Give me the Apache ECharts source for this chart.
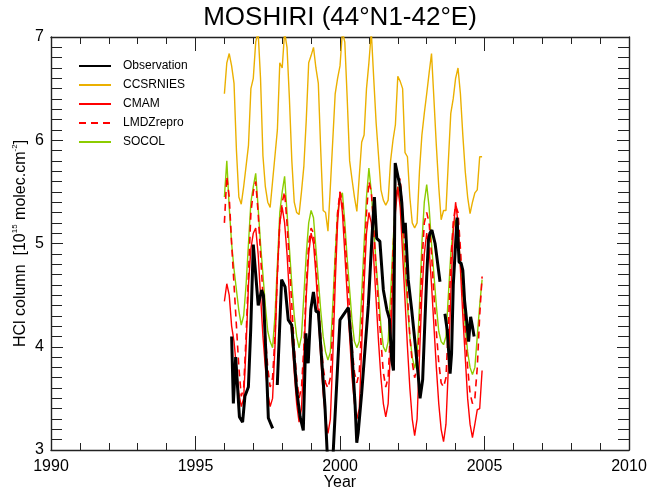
<!DOCTYPE html>
<html>
<head>
<meta charset="utf-8">
<script src="https://cdn.jsdelivr.net/npm/echarts@6/dist/echarts.min.js"></script>
<style>
html, body { margin: 0; padding: 0; background: #fff; }
#chart { width: 648px; height: 491px; }
</style>
</head>
<body>
<div id="chart"></div>
<script>
// monthly model series, first value = Jan 1996
const startYear = 1996;
const ccsrnies = [
	6.45, 6.75, 6.84, 6.72, 6.55, 5.9, 5.45, 5.38, 5.55, 5.75, 5.95, 6.5,
	6.6, 6.95, 7.05, 6.6, 5.85, 5.55, 5.4, 5.35, 5.6, 5.85, 6.1, 6.75,
	6.7, 7.05, 6.9, 6.4, 5.8, 5.4, 5.3, 5.28, 5.5, 5.75, 6.2, 6.75,
	6.82, 6.9, 6.7, 6.55, 5.9, 5.32, 5.3, 5.12, 5.55, 6.0, 6.45, 6.6,
	6.72, 7.05, 6.95, 6.4, 5.8, 5.62, 5.45, 5.31, 5.65, 5.98, 6.05, 6.5,
	6.75, 7.05, 6.6, 6.17, 5.85, 5.52, 5.42, 5.37, 5.42, 5.8, 6.0, 6.15,
	6.62, 6.57, 6.5, 5.88, 5.84, 5.45, 5.2, 5.15, 5.2, 5.7, 6.05, 6.26,
	6.45, 6.65, 6.84, 6.4, 5.95, 5.55, 5.23, 5.32, 5.32, 5.8, 6.26, 6.4,
	6.6, 6.7, 6.45, 6.05, 5.7, 5.45, 5.29, 5.4, 5.49, 5.52, 5.84, 5.84
];
const cmam = [
	4.44, 4.61, 4.5, 4.2, 4.05, 3.8, 3.55, 3.42, 3.5, 4.0, 4.6, 4.95,
	5.1, 5.15, 4.9, 4.5, 4.1, 3.8, 3.55, 3.42, 3.5, 4.0, 4.7, 5.2,
	5.35, 5.2, 4.9, 4.5, 4.1, 3.75, 3.45, 3.27, 3.4, 3.9, 4.5, 4.9,
	5.1, 5.0, 4.7, 4.3, 3.9, 3.55, 3.3, 3.16, 3.3, 3.9, 4.6, 5.2,
	5.5, 5.3, 4.9, 4.5, 4.1, 3.7, 3.45, 3.3, 3.4, 4.0, 4.6, 5.1,
	5.3, 5.2, 4.85, 4.45, 4.05, 3.7, 3.45, 3.32, 3.45, 4.0, 4.7, 5.3,
	5.55, 5.35, 4.9, 4.45, 4.0, 3.6, 3.3, 3.14, 3.3, 3.9, 4.5, 4.9,
	5.1, 4.95, 4.6, 4.2, 3.8, 3.45, 3.2, 3.08, 3.25, 3.8, 4.5, 5.1,
	5.4, 5.2, 4.75, 4.3, 3.9, 3.5, 3.25, 3.12, 3.25, 3.39, 3.4, 3.77
];
const lmdz = [
	5.2, 5.65, 5.45, 5.0, 4.6, 4.2, 3.8, 3.52, 3.6, 4.1, 4.7, 5.3,
	5.5, 5.6, 5.3, 4.9, 4.5, 4.1, 3.8, 3.61, 3.7, 4.1, 4.7, 5.2,
	5.4, 5.5, 5.2, 4.8, 4.4, 4.0, 3.7, 3.5, 3.6, 4.0, 4.6, 5.0,
	5.15, 5.1, 4.8, 4.45, 4.1, 3.8, 3.65, 3.6, 3.7, 4.2, 4.8, 5.3,
	5.5, 5.4, 5.1, 4.7, 4.35, 4.0, 3.75, 3.65, 3.75, 4.2, 4.8, 5.3,
	5.6, 5.5, 5.15, 4.75, 4.4, 4.05, 3.75, 3.61, 3.7, 4.2, 4.9, 5.4,
	5.55, 5.63, 5.3, 4.9, 4.5, 4.1, 3.85, 3.7, 3.8, 4.2, 4.8, 5.2,
	5.3, 5.2, 4.9, 4.5, 4.15, 3.85, 3.65, 3.61, 3.7, 4.2, 4.8, 5.2,
	5.37, 5.3, 4.95, 4.55, 4.15, 3.8, 3.55, 3.45, 3.5, 3.8, 4.3, 4.68
];
const socol = [
	5.45, 5.8, 5.35, 5.0, 4.75, 4.55, 4.35, 4.21, 4.3, 4.6, 5.0, 5.4,
	5.55, 5.68, 5.35, 5.0, 4.7, 4.4, 4.15, 4.05, 3.99, 4.3, 4.8, 5.3,
	5.5, 5.65, 5.3, 4.95, 4.6, 4.3, 4.1, 3.99, 4.1, 4.5, 4.9, 5.2,
	5.32, 5.25, 4.95, 4.65, 4.35, 4.1, 3.95, 3.87, 3.95, 4.4, 4.9, 5.3,
	5.45, 5.49, 5.2, 4.85, 4.55, 4.25, 4.05, 3.99, 4.05, 4.5, 5.0, 5.45,
	5.73, 5.5, 5.15, 4.8, 4.5, 4.2, 4.0, 3.95, 4.05, 4.5, 5.0, 5.4,
	5.55, 5.4, 5.1, 4.75, 4.4, 4.1, 3.9, 3.79, 3.9, 4.4, 5.0, 5.4,
	5.57, 5.35, 5.0, 4.7, 4.4, 4.15, 4.05, 4.02, 4.1, 4.5, 4.9, 5.15,
	5.23, 5.1, 4.8, 4.5, 4.2, 3.95, 3.8, 3.73, 3.8, 4.1, 4.4, 4.65
];
// observations: decimal year / column, null = data gap
const obsYears = [
	1996.25, 1996.31, 1996.39, 1996.52, 1996.63, 1996.71, 1996.83, 1996.91, 1997.00, 1997.17,
	1997.29, 1997.35, 1997.46, 1997.52, 1997.67, 1997.75, 1997.83, 1997.98, 1998.10, 1998.21,
	1998.33, 1998.50, 1998.62, 1998.73, 1998.82, 1998.90, 1998.99, 1999.08, 1999.17, 1999.25,
	1999.48, 1999.57, 1999.75, 2000.00, 2000.17, 2000.29, 2000.40, 2000.52, 2000.58, 2000.63,
	2000.75, 2000.98, 2001.10, 2001.19, 2001.27, 2001.38, 2001.50, 2001.62, 2001.71, 2001.79,
	2001.85, 2001.91, 2002.08, 2002.14, 2002.20, 2002.26, 2002.36, 2002.48, 2002.60, 2002.71,
	2002.77, 2002.86, 2002.94, 2003.00, 2003.06, 2003.11, 2003.18, 2003.29, 2003.35, 2003.46,
	2003.55, 2003.63, 2003.71, 2003.81, 2003.86, 2003.92, 2004.05, 2004.12, 2004.19, 2004.25,
	2004.31, 2004.39, 2004.45, 2004.52, 2004.58, 2004.64
];
const obsValues = [
	4.10, 3.45, 3.90, 3.32, 3.27, 3.52, 3.61, 4.16, 4.99, 4.40,
	4.55, 4.50, 3.77, 3.31, 3.21, null, 3.63, 4.65, 4.58, 4.26,
	4.21, 3.58, 3.32, 3.19, 4.13, 3.84, 4.36, 4.53, 4.34, 4.34,
	3.42, 2.90, 2.90, 4.26, 4.33, 4.38, 4.00, 3.45, 3.07, 3.17,
	3.55, 4.40, 5.03, 5.45, 5.05, 5.02, 4.55, 4.36, 4.27, 3.87,
	3.77, 5.78, 5.55, 5.39, 5.10, 5.20, 4.65, 4.36, 4.03, 3.71,
	3.50, 3.68, 4.26, 4.68, 5.03, 5.10, 5.13, 5.00, 4.87, 4.63,
	null, 4.32, 4.16, 3.74, 3.93, 4.60, 5.25, 4.82, 4.81, 4.74,
	4.45, 4.23, 4.05, 4.29, 4.20, 4.10
];
// axes
const xMin = 1990, xMax = 2010, xStep = 5;
const yMin = 3, yMax = 7, yStep = 1;

function monthly(arr) {
	return arr.map(function (v, i) { return [startYear + i / 12, v]; });
}
const obsData = obsYears.map(function (t, i) {
	return [t, obsValues[i] === null ? '-' : obsValues[i]];
});

const dom = document.getElementById('chart');
const myChart = echarts.init(dom, null, { renderer: 'canvas' });
const font = 'Liberation Sans, Arial, sans-serif';
const frame = { show: true, onZero: false, lineStyle: { color: '#222', width: 1.4 } };

function xAx(pos, labels) {
	return {
		type: 'value', position: pos, min: xMin, max: xMax, interval: xStep,
		axisLine: frame,
		axisTick: { show: true, inside: true, length: 14, lineStyle: { color: '#222', width: 1 } },
		minorTick: { show: true, splitNumber: 5, length: 7, lineStyle: { color: '#222', width: 1 } },
		splitLine: { show: false },
		axisLabel: {
			show: labels, color: '#000', fontSize: 16, fontFamily: font, margin: 9,
			formatter: function (v) { return String(v); }
		},
		name: labels ? 'Year' : '', nameLocation: 'middle', nameGap: 25, nameMoveOverlap: false,
		nameTextStyle: { color: '#000', fontSize: 16, fontFamily: font }
	};
}
function yAx(pos, labels) {
	return {
		type: 'value', position: pos, min: yMin, max: yMax, interval: yStep,
		axisLine: frame,
		axisTick: { show: true, inside: true, length: 12, lineStyle: { color: '#222', width: 1 } },
		minorTick: { show: true, splitNumber: 10, length: 11, lineStyle: { color: '#222', width: 1 } },
		splitLine: { show: false },
		axisLabel: { show: labels, color: '#000', fontSize: 16, fontFamily: font, margin: 7 },
		name: labels ? '{n|HCl column  [10}{s|15}{n| molec.cm}{s|-2}{n|]}' : '',
		nameLocation: 'middle', nameGap: 20, nameRotate: 90, nameMoveOverlap: false,
		nameTextStyle: {
			color: '#000', fontFamily: font,
			rich: {
				n: { fontSize: 16, fontFamily: font, color: '#000', lineHeight: 20 },
				s: { fontSize: 8, fontFamily: font, color: '#000', verticalAlign: 'top', lineHeight: 20 }
			}
		}
	};
}

function line(name, arr, color, width, dashed, z) {
	return {
		name: name, type: 'line', data: arr, xAxisIndex: 0, yAxisIndex: 0,
		showSymbol: false, symbol: 'none', clip: true, z: z, connectNulls: false,
		lineStyle: { color: color, width: width, type: dashed ? [7, 5] : 'solid' },
		itemStyle: { color: color }
	};
}

const option = {
	animation: false,
	backgroundColor: '#fff',
	graphic: [{
		type: 'text', x: 340, y: 5,
		style: {
			text: 'MOSHIRI (44°N1-42°E)', fontSize: 26, fontFamily: font, fill: '#000',
			align: 'center', verticalAlign: 'top'
		}
	}],
	grid: { left: 51, right: 19, top: 37, bottom: 41, outerBoundsMode: 'none', containLabel: false },
	legend: {
		orient: 'vertical', left: 78, top: 60, padding: 0,
		itemWidth: 32, itemHeight: 10, itemGap: 7,
		itemStyle: { opacity: 0, borderWidth: 0 },
		textStyle: { color: '#000', fontSize: 12, fontFamily: font, padding: [0, 0, 0, 7] },
		data: ['Observation', 'CCSRNIES', 'CMAM', 'LMDZrepro', 'SOCOL']
	},
	xAxis: [xAx('bottom', true), xAx('top', false)],
	yAxis: [yAx('left', true), yAx('right', false)],
	series: [
		line('Observation', obsData, '#000000', 3, false, 10),
		line('CCSRNIES', monthly(ccsrnies), '#EBB000', 1.4, false, 3),
		line('CMAM', monthly(cmam), '#FF0000', 1.4, false, 4),
		line('LMDZrepro', monthly(lmdz), '#FF0000', 1.6, true, 5),
		line('SOCOL', monthly(socol), '#8CCC00', 1.4, false, 2)
	]
};
myChart.setOption(option);
</script>
</body>
</html>
